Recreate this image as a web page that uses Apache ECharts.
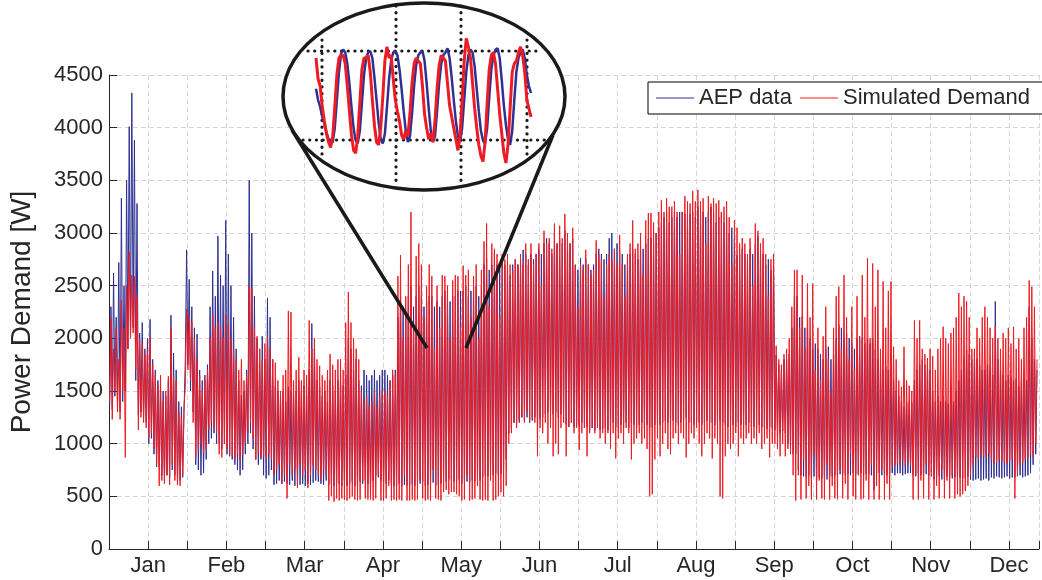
<!DOCTYPE html>
<html>
<head>
<meta charset="utf-8">
<title>Power Demand</title>
<script src="https://cdn.jsdelivr.net/npm/echarts@6/dist/echarts.min.js"></script>
<style>
  html, body { margin: 0; padding: 0; background: #fff; }
  #chart { width: 1042px; height: 580px; }
</style>
</head>
<body>
<div id="chart"></div>
<script>
// month labels, one every 30 days (ticks every 15)
const months = ['Jan', 'Feb', 'Mar', 'Apr', 'May', 'Jun', 'Jul', 'Aug', 'Sep', 'Oct', 'Nov', 'Dec'];
const yTicks = [0, 500, 1000, 1500, 2000, 2500, 3000, 3500, 4000, 4500];

// daily high / low of the simulated demand (red), W
const redHi = [
  2200,1900,2100,1800,2360,2100,2500,2820,2600,2590,
  2400,2000,1950,1850,1900,2000,1750,1650,1550,1650,
  1400,1500,1640,2100,1640,1600,1300,1250,1350,2280,
  2200,2150,2000,1800,1650,1500,1600,1700,2000,2230,
  2100,2150,2100,2000,2220,2130,2000,1900,1800,1700,
  1800,1600,1650,2500,2480,2100,2020,1900,1800,1950,
  2020,1900,1800,1770,1600,1500,1650,1700,2260,2250,
  1600,1700,1820,1600,1700,1650,2170,1900,2000,1800,
  1740,1650,1600,1700,1850,1750,1700,1800,1800,1700,
  2150,2440,2150,2000,1900,1800,1500,1400,1450,1350,
  1400,1500,1350,1450,1500,1500,1450,1600,1700,1650,
  2590,2790,2000,2400,2700,3200,2100,2780,2900,2700,
  2200,2500,2700,2590,1900,2500,2100,2600,2590,2500,
  2000,2550,2600,2590,2100,2690,2600,2650,2200,2590,
  2700,2000,2650,2920,3090,2300,2900,2850,2800,2200,
  2800,2750,2800,2700,2650,2750,2700,2800,2700,2900,
  2750,2900,2700,2800,2900,2500,3020,2900,2950,2850,
  3090,2900,3070,2950,3180,3000,2900,3050,2690,2300,
  2700,2650,2840,2700,2600,2650,2930,2800,2750,2400,
  2700,2800,2750,2850,2700,2980,2700,2400,2800,2900,
  3120,2850,2900,3000,2600,3120,3190,3190,3100,3000,
  3200,3310,3200,3330,3250,3250,3300,3200,2800,3200,
  3350,3300,3280,3400,3300,3410,3300,3330,2900,3350,
  3280,3330,3280,3310,3200,3250,3300,3150,2700,3120,
  3050,2900,2950,2900,2800,2950,2500,3090,3020,2900,
  2950,2800,2400,2750,2800,1930,1800,1750,1850,1900,
  2000,2300,2650,2650,2100,2600,1900,2520,2200,2520,
  1700,2100,1600,2020,2300,1800,1500,2100,2400,2490,
  1900,2600,2200,1800,2300,1700,2400,2000,2600,2200,
  2760,2000,2710,2300,2650,1900,2540,2100,2450,2540,
  1920,1800,1600,1540,1920,1600,1550,1500,2170,2000,
  2170,1900,1850,1800,1900,1830,1700,1900,2000,2110,
  2000,1950,2050,2100,2200,2430,2300,2400,2350,2200,
  1900,1900,2100,2000,2200,2300,2200,2100,2000,2110,
  2000,1900,2050,2000,2100,1950,2110,1900,2000,1800,
  2100,2200,2550,2490,2300,1800
];
const redLo = [
  1400,1230,1500,1300,1230,1500,870,1900,2000,2050,
  1700,1130,1250,1200,1150,1050,1100,950,800,600,
  650,620,700,610,800,650,610,600,700,1540,
  1700,1600,1200,870,950,1000,900,950,1130,1200,
  1150,1100,900,870,1000,950,900,880,850,900,
  840,900,1000,1100,1200,1050,850,900,870,880,
  860,900,850,700,750,800,620,700,480,800,
  700,750,580,800,700,750,580,700,800,750,
  700,650,750,700,460,500,450,480,460,480,
  470,460,480,500,470,460,470,650,480,470,
  470,460,480,700,460,460,480,600,460,470,
  460,470,460,700,460,460,470,460,470,650,
  480,460,470,460,750,480,470,460,540,560,
  520,540,540,520,500,460,470,700,460,470,
  480,600,470,460,470,460,650,460,470,500,
  540,500,600,1000,1100,1200,1150,1230,1250,1200,
  1300,1220,1250,1200,880,1150,1100,1200,1000,1150,
  880,1000,900,1150,1200,880,1160,1200,1100,1150,
  940,1100,1150,880,1100,1150,1100,1150,1050,1100,
  1000,1100,950,1100,860,1050,1100,1000,1150,1100,
  850,1000,1050,1100,1000,1050,950,500,520,850,
  1050,880,1000,1100,950,900,1050,1100,1000,1100,
  1050,870,1000,1100,1050,1150,1000,880,1000,1100,
  1050,860,1050,1000,500,480,880,1000,950,1000,
  1100,880,1050,1000,1050,1100,1000,1050,1000,1100,
  950,1000,1050,870,1000,1000,950,880,1000,880,
  950,900,700,460,700,470,850,480,600,470,
  900,470,650,480,470,800,470,600,480,470,
  750,480,620,470,900,500,470,700,470,480,
  650,470,800,470,600,470,750,470,620,470,
  780,800,820,800,850,780,820,800,470,700,
  470,650,480,800,470,700,470,600,480,750,
  480,650,480,700,480,520,500,520,550,600,
  700,800,870,850,900,880,870,900,850,810,
  820,850,830,820,810,840,850,480,700,800,
  820,850,870,900,870,1000
];

// daily high / low of the AEP measurements (blue), W
const blueHi = [
  2300,2620,2200,2720,3330,2500,3500,4010,4330,3880,
  3280,2050,2150,1900,2000,2180,1800,1700,1600,1540,
  1500,1450,1600,2220,1860,1700,1400,1350,1300,2840,
  2560,2300,2100,2040,1700,1600,1650,1750,2300,2640,
  2400,2970,2600,2500,3120,2800,2500,2200,1900,1600,
  1460,1500,1700,3500,3000,2400,2000,1900,2020,1800,
  2380,2200,1800,1540,1500,1450,1500,1400,1540,1500,
  1450,1500,1600,1500,1550,1450,1700,2140,1900,1600,
  1540,1450,1500,1400,1600,1550,1500,1600,1600,1550,
  1650,2000,1900,1700,1800,1600,1550,1700,1650,1600,
  1650,1700,1600,1650,1700,1700,1650,1600,1650,1700,
  2200,2400,2300,2200,2400,2500,2300,2400,2500,2400,
  2300,2350,2400,2400,2300,2350,2300,2400,2450,2400,
  2350,2400,2400,2450,2450,2450,2500,2400,2450,2490,
  2500,2400,2500,2700,2750,2650,2700,2810,2700,2650,
  2700,2700,2650,2600,2700,2750,2700,2750,2840,2800,
  2700,2800,2750,2800,2850,2800,2900,2950,2900,2800,
  3000,2900,2950,2900,3020,2950,2900,2950,2700,2650,
  2760,2700,2760,2700,2650,2700,2800,2850,2800,2750,
  2800,2950,3000,2850,2900,2840,2800,2700,2750,2800,
  2850,2800,2750,2900,2850,2900,2950,2950,2900,3000,
  3050,3100,3150,3200,3100,3150,3200,3150,3200,3200,
  3180,3150,3180,3200,3150,3250,3200,3200,3150,3200,
  3250,3200,3100,3150,3200,3100,3150,3000,3050,2950,
  2790,2800,2850,2800,2750,2850,2800,2900,2970,2850,
  2800,2700,2750,2650,2700,1840,1750,1700,1800,1800,
  1850,2100,2400,2400,2200,2210,2100,2100,2000,1900,
  1950,1900,1850,1800,1900,1920,1800,1850,2000,2130,
  2100,2000,2050,2000,1950,1900,2000,2020,2000,1950,
  2000,1950,2000,1900,1800,1750,1700,1730,1700,1730,
  1600,1500,1450,1400,1350,1390,1400,1390,1600,1700,
  1750,1800,1750,1810,1700,1500,1400,1450,1400,1450,
  1400,1380,1450,1400,1500,1600,1700,1800,1890,1850,
  1800,1870,1800,1750,1700,1700,1750,1700,1650,2350,
  1800,1700,1650,1600,1650,1620,1600,1620,1550,1600,
  1620,1600,2300,2000,1800,1700
];
const blueLo = [
  1350,1320,1450,1400,1300,1400,1500,1900,2000,2100,
  1600,1270,1300,1250,1200,1000,1050,900,780,780,
  700,650,700,680,750,700,610,650,680,1800,
  1750,1500,1300,800,750,700,720,850,1000,1050,
  1100,1000,1000,950,1000,900,880,850,800,750,
  700,750,900,1000,1100,950,850,800,850,700,
  670,700,750,610,620,650,620,640,620,610,
  650,600,600,610,620,600,620,610,630,650,
  640,620,610,650,610,620,600,630,620,600,
  650,600,620,640,600,600,640,620,650,620,
  620,650,700,680,650,640,620,650,630,600,
  600,620,600,610,600,600,620,600,640,620,
  640,600,610,620,630,600,610,620,650,640,
  660,650,640,650,660,620,650,640,630,650,
  640,660,650,680,700,690,700,700,720,700,
  710,800,850,1100,1150,1200,1200,1200,1250,1220,
  1250,1200,1220,1250,1200,1230,1250,1280,1300,1280,
  1280,1300,1250,1280,1200,1180,1160,1200,1160,1180,
  1160,1200,1150,1160,1130,1150,1130,1150,1130,1140,
  1150,1130,1150,1200,1160,1150,1180,1160,1200,1150,
  1200,1180,1160,1180,1200,1150,1180,1150,1160,1180,
  1200,1180,1200,1220,1200,1200,1220,1200,1180,1200,
  1220,1250,1200,1200,1180,1220,1200,1180,1200,1220,
  1200,1200,1180,1200,1220,1200,1180,1160,1200,1180,
  1160,1200,1180,1150,1180,1200,1160,1160,1150,1180,
  1160,1150,1140,1160,1150,1130,1150,1100,1120,1100,
  1000,950,900,900,750,700,690,690,700,680,
  690,660,680,670,700,660,700,690,700,700,
  710,720,700,710,700,720,710,710,720,700,
  710,710,700,560,720,720,700,710,700,710,
  720,700,720,720,700,710,720,720,700,690,
  720,700,720,710,700,690,660,680,700,660,
  670,690,680,670,680,660,680,670,680,690,
  660,650,660,670,650,660,670,650,680,670,
  690,680,670,680,690,670,680,680,690,700,
  680,690,700,720,800,900
];

// zoomed window (about 8.5 days, one value every 2 hours), relative units
const insetBlue = [
  58,50,45,38,33,27,22,19,20,30,
  50,70,83,86,84,76,62,45,30,21,
  19,28,48,68,80,84,85,80,66,50,
  34,22,19,26,45,65,78,84,85,82,
  72,58,42,28,20,24,40,60,75,82,
  84,85,78,62,44,28,20,24,42,62,
  76,82,84,87,80,66,50,35,24,20,
  30,50,70,82,86,84,74,58,42,28,
  21,19,30,52,72,82,86,87,80,64,
  46,32,22,18,28,50,70,80,84,86,
  80,68,60,55
];
const insetRed = [
  80,65,60,45,35,26,20,16,24,45,
  68,80,82,82,76,60,42,25,14,12,
  24,48,72,80,80,82,70,50,32,20,
  18,30,52,78,88,80,82,65,50,42,
  35,25,22,28,24,40,62,76,80,78,
  76,60,40,30,22,26,20,35,58,75,
  82,80,78,62,46,38,30,22,14,24,
  50,78,94,88,80,62,44,30,18,10,
  6,20,48,72,82,84,76,58,40,26,
  12,5,18,44,70,76,78,84,88,82,
  70,50,44,38
];

const FONT = '"Liberation Sans", Arial, Helvetica, sans-serif';
const BLUE = '#2E3192';
const RED = '#ED1C24';
const INK = '#1a1a1a';

// low then high inside each day
function dailySwing(lo, hi) {
  const out = [];
  for (let d = 0; d < lo.length; d++) {
    out.push([d + 0.25, lo[d]]);
    out.push([d + 0.75, hi[d]]);
  }
  return out;
}
function everyTwoHours(vals) {
  return vals.map((v, i) => [i * 2, v]);
}

const chart = echarts.init(document.getElementById('chart'));

// round dots for the zoom window grid
const dotted = { stroke: INK, lineWidth: 3.2, lineCap: 'round', lineDash: [0.1, 6.6] };
function dotLine(x1, y1, x2, y2) {
  return { type: 'line', z: 6, silent: true, shape: { x1, y1, x2, y2 }, style: dotted };
}

chart.setOption({
  animation: false,
  backgroundColor: '#fff',
  textStyle: { fontFamily: FONT },
  grid: [
    { left: 108, right: 2, top: 75, bottom: 31 },
    { left: 316, width: 215, top: 30, height: 140 }
  ],
  legend: {
    data: ['AEP data', 'Simulated Demand'],
    orient: 'horizontal',
    left: 648,
    top: 82,
    width: 440,
    icon: 'rect',
    itemWidth: 38,
    itemHeight: 1.2,
    itemGap: 8,
    padding: [5, 24, 5, 8],
    borderColor: '#000',
    borderWidth: 1,
    backgroundColor: '#fff',
    textStyle: { fontSize: 22, color: '#262626', fontFamily: FONT }
  },
  xAxis: [
    {
      type: 'value',
      min: 0,
      max: 356.5,
      interval: 15,
      axisLine: { onZero: false, lineStyle: { color: '#262626', width: 1 } },
      axisTick: { inside: true, length: 8, lineStyle: { color: '#262626' } },
      axisLabel: {
        fontSize: 22,
        color: '#262626',
        margin: 6,
        fontFamily: FONT,
        formatter: function (v) {
          const k = Math.round(v / 15);
          if (Math.abs(v - k * 15) < 1e-6 && k % 2 === 1) return months[(k - 1) / 2];
          return '';
        }
      },
      splitLine: { show: true, lineStyle: { color: '#d6d6d6', type: [5, 3] } }
    },
    { gridIndex: 1, type: 'value', min: 0, max: 206, show: false }
  ],
  yAxis: [
    {
      type: 'value',
      min: yTicks[0],
      max: yTicks[yTicks.length - 1],
      interval: 500,
      name: 'Power Demand [W]',
      nameLocation: 'middle',
      nameGap: 73,
      nameTextStyle: { fontSize: 28, color: '#262626', fontFamily: FONT },
      axisLine: { show: true, lineStyle: { color: '#262626', width: 1 } },
      axisTick: { show: true, inside: true, length: 8, lineStyle: { color: '#262626' } },
      axisLabel: {
        fontSize: 22,
        color: '#262626',
        margin: 6,
        fontFamily: FONT,
        formatter: function (v) { return String(v); }
      },
      splitLine: { show: true, lineStyle: { color: '#d6d6d6', type: [5, 3] } }
    },
    { gridIndex: 1, type: 'value', min: 0, max: 100, show: false }
  ],
  series: [
    {
      name: 'AEP data',
      type: 'line',
      symbol: 'none',
      z: 2,
      color: BLUE,
      lineStyle: { color: BLUE, width: 1 },
      data: dailySwing(blueLo, blueHi)
    },
    {
      name: 'Simulated Demand',
      type: 'line',
      symbol: 'none',
      z: 3,
      color: RED,
      lineStyle: { color: RED, width: 1 },
      data: dailySwing(redLo, redHi)
    },
    {
      name: 'AEP data (zoom)',
      type: 'line',
      xAxisIndex: 1,
      yAxisIndex: 1,
      symbol: 'none',
      z: 10,
      lineStyle: { color: BLUE, width: 2.5 },
      data: everyTwoHours(insetBlue)
    },
    {
      name: 'Simulated Demand (zoom)',
      type: 'line',
      xAxisIndex: 1,
      yAxisIndex: 1,
      symbol: 'none',
      z: 11,
      lineStyle: { color: RED, width: 3 },
      data: everyTwoHours(insetRed)
    }
  ],
  graphic: [
    { type: 'line', z: 4, silent: true, shape: { x1: 427, y1: 348, x2: 292, y2: 130 }, style: { stroke: INK, lineWidth: 3.5 } },
    { type: 'line', z: 4, silent: true, shape: { x1: 466, y1: 348, x2: 553, y2: 135 }, style: { stroke: INK, lineWidth: 3.5 } },
    { type: 'ellipse', z: 5, silent: true, shape: { cx: 424, cy: 96.5, rx: 141, ry: 93.5 }, style: { fill: '#fff', stroke: INK, lineWidth: 3.5 } },
    dotLine(308, 51, 540, 51),
    dotLine(303, 140, 547, 140),
    dotLine(322, 40, 322, 155),
    dotLine(396, 6, 396, 185),
    dotLine(461, 6, 461, 185),
    dotLine(527, 40, 527, 155)
  ]
});

window.addEventListener('resize', function () {
  chart.resize();
});
</script>
</body>
</html>
